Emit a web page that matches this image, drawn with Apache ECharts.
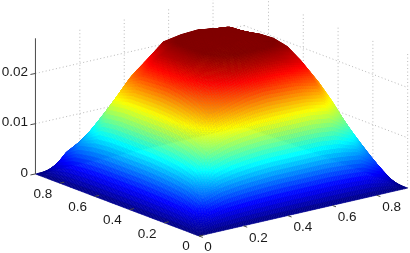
<!DOCTYPE html>
<html><head><meta charset="utf-8">
<style>html,body{margin:0;padding:0;background:#fff}#c{width:410px;height:253px}</style>
<script src="https://cdn.jsdelivr.net/npm/echarts@6/dist/echarts.min.js"></script>
</head><body><div id="c"></div>
<script>
// Tick labels
const xTicks = [0, 0.2, 0.4, 0.6, 0.8];
const yTicks = [0, 0.2, 0.4, 0.6, 0.8];
const zTicks = [0, 0.01, 0.02];
const xMax = 0.94, yMax = 0.94, zMax = 0.027;
// Surface heights (units of 1e-3), one row per y node; nodes evenly spread over 0..xMax / 0..yMax
const row00 = [0,0,0,0,0,0,0,0,0,0,0,0,0];
const row01 = [0,5.5,6.8,7.3,7.6,7.8,7.8,7.8,7.8,7.5,7,4.6,0];
const row02 = [0,6.8,13,14.5,15.2,15.5,15.5,15.5,15.5,15,12.4,7,0];
const row03 = [0,7.3,14.5,18.5,20,21,21.5,21.3,21,20.2,15.8,8.6,0];
const row04 = [0,7.6,15.2,20,22.5,24,24.7,24.7,24.4,23.6,18.6,8.7,0];
const row05 = [0,7.8,15.5,21,24,25.3,26,26,26,25.4,19,8.6,0];
const row06 = [0,7.8,15.5,21.5,24.7,26,26.8,27,27,26,19.2,8.5,0];
const row07 = [0,7.8,15.5,21.3,24.7,26,27,27.2,27.1,25.8,19.3,8.5,0];
const row08 = [0,7.8,15.5,21,24.4,26,27,27.1,27,25,19.3,8.5,0];
const row09 = [0,7.5,15,19.4,22.4,25.4,26,26.2,25.6,25,18.8,8.4,0];
const row10 = [0,6.8,10.8,14.4,18.6,19,19.2,19.3,19.3,18.8,16,7.8,0];
const row11 = [0,4.6,6.4,8.6,8.7,8.6,8.5,8.5,8.5,8.4,7.8,5,0];
const row12 = [0,0,0,0,0,0,0,0,0,0,0,0,0];
const zRows = [row00,row01,row02,row03,row04,row05,row06,row07,row08,row09,row10,row11,row12];

// Fixed oblique projection of the 3D box
const O=[199,236], VX=[222,-51], VY=[-174,-66], VZ=5025;
const proj=(x,y,z)=>[O[0]+x*VX[0]+y*VY[0], O[1]+x*VX[1]+y*VY[1]-z*VZ];
const N=zRows.length-1, SUB=10, CMAX=26;
const cl=v=>Math.max(0,Math.min(1,v));
function jet(v){v=cl(v);const f=c=>Math.round(255*cl(1.5-Math.abs(4*v-c)));return `rgb(${f(3)},${f(2)},${f(1)})`;}
const GRID='#b9b9b9', AX='#4a4a4a', FONT='13.5px "Liberation Sans", Arial, sans-serif';

function line(a,b,style){return {type:'line',shape:{x1:a[0],y1:a[1],x2:b[0],y2:b[1]},style};}
function text(t,x,y,align){return {type:'text',style:{text:t,x,y,fill:'#1a1a1a',font:FONT,align:align||'center',verticalAlign:'middle'}};}

function gridItems(){
  const s={stroke:GRID,lineWidth:1,lineDash:[1,2.5],fill:null}, out=[];
  xTicks.filter(v=>v>0).forEach(v=>out.push(line(proj(v,yMax,0),proj(v,yMax,zMax),s)));
  yTicks.forEach(v=>out.push(line(proj(xMax,v,0),proj(xMax,v,zMax),s)));
  zTicks.filter(v=>v>0).forEach(v=>{
    out.push(line(proj(0,yMax,v),proj(xMax,yMax,v),s));
    out.push(line(proj(xMax,yMax,v),proj(xMax,0,v),s));
  });
  return out;
}
function axisItems(){
  const s={stroke:AX,lineWidth:1,fill:null}, out=[];
  out.push(line(proj(0,yMax,0),proj(0,yMax,zMax),s));
  zTicks.forEach(v=>{
    const p=proj(0,yMax,v);
    out.push(line(p,[p[0]-5,p[1]+1],s));
    out.push(text(String(v),p[0]-7.5,p[1]-1,'right'));
  });
  yTicks.forEach(v=>{
    const p=proj(0,v,0);
    out.push(line(p,[p[0]+4.5,p[1]-1],s));
    out.push(v===0?text('0',p[0]-13,p[1]+10):text(String(v),p[0]-17,p[1]+11));
  });
  xTicks.forEach(v=>{
    const p=proj(v,0,0);
    out.push(line(p,[p[0]+3.8,p[1]+1.4],s));
    out.push(v===0?text('0',p[0]+9,p[1]+11):text(String(v),p[0]+15,p[1]+12));
  });
  return out;
}
// cells back-to-front
const cells=[];
for(let j=N-1;j>=0;j--)for(let i=N-1;i>=0;i--)cells.push([i,j]);
function cellItem(params,api){
  const i=api.value(0), j=api.value(1), ch=[];
  const a=zRows[j][i],b=zRows[j][i+1],c=zRows[j+1][i],d=zRows[j+1][i+1];
  const Z=(u,v)=>(a*(1-u)*(1-v)+b*u*(1-v)+c*(1-u)*v+d*u*v);
  const P=(u,v)=>proj((i+u)/N*xMax,(j+v)/N*yMax,Z(u,v)/1000);
  for(let q=SUB-1;q>=0;q--)for(let p=SUB-1;p>=0;p--){
    const u0=p/SUB,u1=(p+1)/SUB,v0=q/SUB,v1=(q+1)/SUB;
    const col=jet(Z((u0+u1)/2,(v0+v1)/2)/CMAX);
    ch.push({type:'polygon',shape:{points:[P(u0,v0),P(u1,v0),P(u1,v1),P(u0,v1)]},
      style:{fill:col,stroke:col,lineWidth:0.6}});
  }
  return {type:'group',children:ch};
}
const chart=echarts.init(document.getElementById('c'),null,{renderer:'canvas'});
chart.setOption({
  animation:false,backgroundColor:'#fff',
  series:[
    {type:'custom',coordinateSystem:'none',silent:true,z:1,data:[[0]],
     renderItem:()=>({type:'group',children:gridItems()})},
    {type:'custom',coordinateSystem:'none',silent:true,z:2,progressive:0,data:cells,
     encode:{},renderItem:cellItem},
    {type:'custom',coordinateSystem:'none',silent:true,z:3,data:[[0]],
     renderItem:()=>({type:'group',children:axisItems()})}
  ]
});
</script></body></html>
